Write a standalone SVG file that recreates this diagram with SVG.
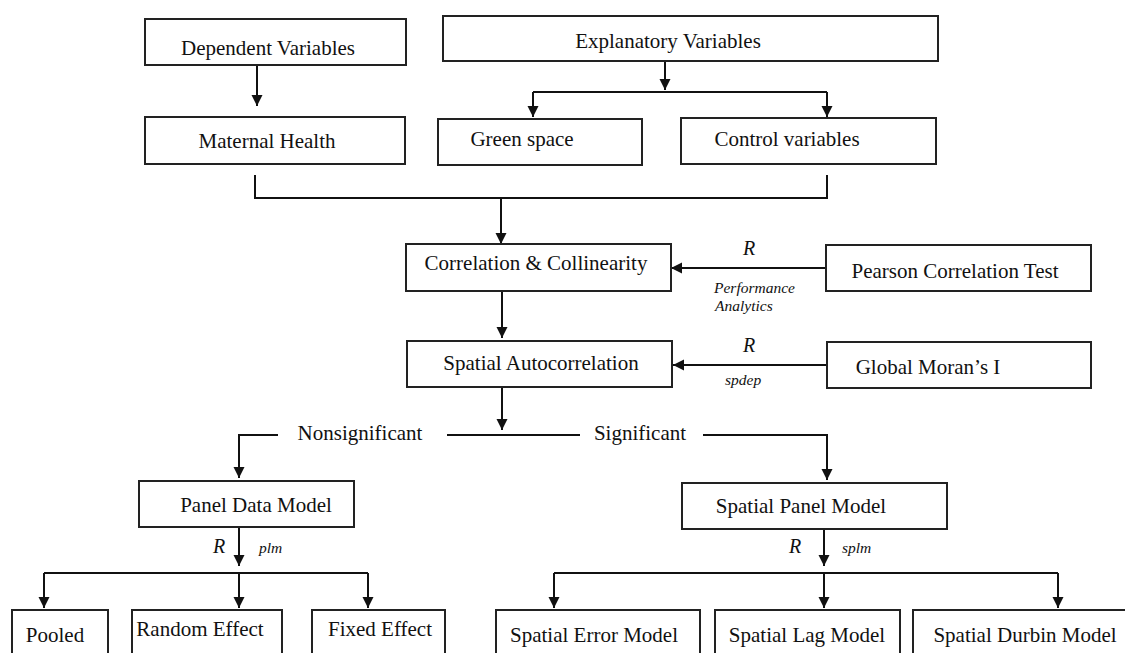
<svg xmlns="http://www.w3.org/2000/svg" width="1125" height="653" viewBox="0 0 1125 653">
<style>
.box{fill:#fff;stroke:#222;stroke-width:2}
.t{font-family:'Liberation Serif','DejaVu Serif',serif;font-size:21px;fill:#111;text-anchor:middle}
.i{font-family:'Liberation Serif','DejaVu Serif',serif;font-style:italic;fill:#111}
.c{fill:none;stroke:#111;stroke-width:2}
</style>
<defs>
<marker id="ah" markerUnits="userSpaceOnUse" markerWidth="12" markerHeight="12" refX="11" refY="5.5" orient="auto">
<path d="M0,0 L11,5.5 L0,11 z" fill="#111"/>
</marker>
</defs>
<rect width="1125" height="653" fill="#fff"/>
<g id="connectors">
<path class="c" d="M257,65 V106" marker-end="url(#ah)"/>
<path class="c" d="M665,61 V90" marker-end="url(#ah)"/>
<path class="c" d="M533,92 H827"/>
<path class="c" d="M533,92 V117" marker-end="url(#ah)"/>
<path class="c" d="M827,92 V117" marker-end="url(#ah)"/>
<path class="c" d="M255,175 V198 H827 V175"/>
<path class="c" d="M501,198 V244" marker-end="url(#ah)"/>
<path class="c" d="M826,268 H671" marker-end="url(#ah)"/>
<path class="c" d="M502,291 V338" marker-end="url(#ah)"/>
<path class="c" d="M827,365 H673" marker-end="url(#ah)"/>
<path class="c" d="M502,387 V430" marker-end="url(#ah)"/>
<path class="c" d="M278,435 H239 V478" marker-end="url(#ah)"/>
<path class="c" d="M447,435 H580"/>
<path class="c" d="M703,435 H827 V480" marker-end="url(#ah)"/>
<path class="c" d="M239,527 V566" marker-end="url(#ah)"/>
<path class="c" d="M44,573 H368"/>
<path class="c" d="M44,573 V608" marker-end="url(#ah)"/>
<path class="c" d="M239,573 V608" marker-end="url(#ah)"/>
<path class="c" d="M368,573 V608" marker-end="url(#ah)"/>
<path class="c" d="M824,529 V566" marker-end="url(#ah)"/>
<path class="c" d="M554,573 H1058"/>
<path class="c" d="M554,573 V608" marker-end="url(#ah)"/>
<path class="c" d="M824,573 V608" marker-end="url(#ah)"/>
<path class="c" d="M1058,573 V608" marker-end="url(#ah)"/>
<text class="t" x="360" y="440">Nonsignificant</text>
<text class="t" x="640" y="440">Significant</text>
<text class="i" x="749" y="255" font-size="20" text-anchor="middle">R</text>
<text class="i" x="714" y="293" font-size="15.5">Performance</text>
<text class="i" x="715" y="311" font-size="15.5">Analytics</text>
<text class="i" x="749" y="352" font-size="20" text-anchor="middle">R</text>
<text class="i" x="725" y="385" font-size="15.5">spdep</text>
<text class="i" x="219" y="553" font-size="20" text-anchor="middle">R</text>
<text class="i" x="259" y="553" font-size="15.5">plm</text>
<text class="i" x="795" y="553" font-size="20" text-anchor="middle">R</text>
<text class="i" x="842" y="553" font-size="15.5">splm</text>
</g>
<g id="dependent"><rect class="box" x="145" y="19" width="261" height="46"/><text class="t" x="268" y="55">Dependent Variables</text></g>
<g id="maternal"><rect class="box" x="145" y="117" width="260" height="47"/><text class="t" x="267" y="148">Maternal Health</text></g>
<g id="explanatory"><rect class="box" x="443" y="16" width="495" height="45"/><text class="t" x="668" y="48">Explanatory Variables</text></g>
<g id="green"><rect class="box" x="438" y="119" width="204" height="46"/><text class="t" x="522" y="146">Green space</text></g>
<g id="control"><rect class="box" x="681" y="118" width="255" height="46"/><text class="t" x="787" y="146">Control variables</text></g>
<g id="correlation"><rect class="box" x="406" y="244" width="265" height="47"/><text class="t" x="536" y="270">Correlation &amp; Collinearity</text></g>
<g id="pearson"><rect class="box" x="826" y="245" width="265" height="46"/><text class="t" x="955" y="278">Pearson Correlation Test</text></g>
<g id="autocorrelation"><rect class="box" x="407" y="341" width="265" height="46"/><text class="t" x="541" y="370">Spatial Autocorrelation</text></g>
<g id="moran"><rect class="box" x="827" y="342" width="264" height="46"/><text class="t" x="928" y="374">Global Moran’s I</text></g>
<g id="panel"><rect class="box" x="139" y="481" width="215" height="46"/><text class="t" x="256" y="512">Panel Data Model</text></g>
<g id="spatialpanel"><rect class="box" x="682" y="483" width="265" height="46"/><text class="t" x="801" y="513">Spatial Panel Model</text></g>
<g id="pooled"><rect class="box" x="12" y="610" width="96" height="60"/><text class="t" x="55" y="642">Pooled</text></g>
<g id="random"><rect class="box" x="132" y="610" width="150" height="60"/><text class="t" x="200" y="636">Random Effect</text></g>
<g id="fixed"><rect class="box" x="312" y="610" width="133" height="60"/><text class="t" x="380" y="636">Fixed Effect</text></g>
<g id="error"><rect class="box" x="496" y="610" width="204" height="60"/><text class="t" x="594" y="642">Spatial Error Model</text></g>
<g id="lag"><rect class="box" x="715" y="610" width="185" height="60"/><text class="t" x="807" y="642">Spatial Lag Model</text></g>
<g id="durbin"><rect class="box" x="913" y="610" width="220" height="60"/><text class="t" x="1025" y="642">Spatial Durbin Model</text></g>
</svg>
